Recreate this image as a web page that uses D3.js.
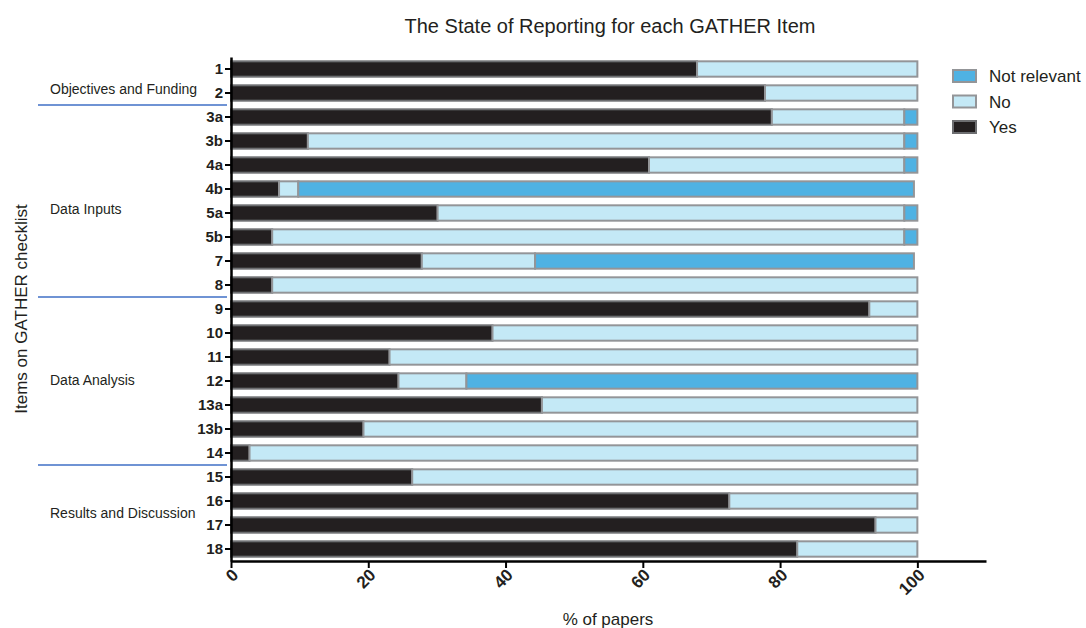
<!DOCTYPE html>
<html>
<head>
<meta charset="utf-8">
<script src="https://cdn.jsdelivr.net/npm/d3@7"></script>
<style>
  body { margin: 0; background: #fff; }
  svg { font-family: "Liberation Sans", Arial, sans-serif; }
</style>
</head>
<body>
<div class="canvas"></div>
<script>
// data (% of papers)
const items = ['1', '2', '3a', '3b', '4a', '4b', '5a', '5b', '7', '8', '9', '10', '11', '12', '13a', '13b', '14', '15', '16', '17', '18'];
const yes = [67.9, 77.8, 78.8, 11.2, 60.9, 7.0, 30.1, 6.0, 27.8, 6.0, 93.0, 38.1, 23.1, 24.4, 45.3, 19.3, 2.7, 26.4, 72.6, 93.9, 82.5];
const no = [32.1, 22.2, 19.3, 86.9, 37.2, 2.8, 68.0, 92.1, 16.5, 94.0, 7.0, 61.9, 76.9, 9.9, 54.7, 80.7, 97.3, 73.6, 27.4, 6.1, 17.5];
const notRelevant = [0, 0, 1.9, 1.9, 1.9, 89.7, 1.9, 1.9, 55.2, 0, 0, 0, 0, 65.7, 0, 0, 0, 0, 0, 0, 0];
const xTicks = [0, 20, 40, 60, 80, 100];
const groupNames = ['Objectives and Funding', 'Data Inputs', 'Data Analysis', 'Results and Discussion'];
const groupFirst = ['1', '3a', '9', '15'];
// item next to which each group name sits
const groupLabelAt = ['2', '5a', '12', '17'];
const legendItems = ['Not relevant', 'No', 'Yes'];

const dims = { width: 1086, height: 628 };
const margin = { left: 231, right: 986, top: 57, bottom: 561 };
const colors = { 'Yes': '#231f20', 'No': '#c4e9f6', 'Not relevant': '#4fb2e3' };
const strokes = { 'Yes': '#6d6e71', 'No': '#939598', 'Not relevant': '#939598' };
const labelShift = [1, 1, 4, -7];

const svg = d3.select('.canvas')
    .append('svg')
    .attr('width', dims.width)
    .attr('height', dims.height);

const x = d3.scaleLinear().domain([0, 110]).range([margin.left, margin.right]);
const y = d3.scaleBand().domain(items).range([margin.top, margin.bottom]).paddingInner(0.36).paddingOuter(0.18);

// stack the three series per item
const rows = items.map((item, i) => ({ item, Yes: yes[i], No: no[i], 'Not relevant': notRelevant[i] }));
const stack = d3.stack().keys(['Yes', 'No', 'Not relevant']);
const series = stack(rows);

const graph = svg.append('g');
series.forEach(s => {
    graph.selectAll(null)
        .data(s.filter(d => d[1] - d[0] > 0))
        .enter()
        .append('rect')
        .attr('x', d => x(d[0]))
        .attr('y', d => y(d.data.item))
        .attr('width', d => x(d[1]) - x(d[0]))
        .attr('height', y.bandwidth())
        .attr('fill', colors[s.key])
        .attr('stroke', strokes[s.key])
        .attr('stroke-width', 2);
});

// axes
const xAxis = svg.append('g')
    .attr('transform', `translate(0,${margin.bottom})`)
    .call(d3.axisBottom(x).tickValues(xTicks).tickSize(7).tickSizeOuter(0));
xAxis.select('.domain').attr('stroke', '#000').attr('stroke-width', 2.5);
xAxis.selectAll('.tick line').attr('stroke', '#000').attr('stroke-width', 2);
xAxis.selectAll('.tick text')
    .style('font-size', '17px')
    .attr('font-weight', 'bold')
    .attr('fill', '#231f20')
    .attr('text-anchor', 'end')
    .attr('dy', null)
    .attr('y', 0)
    .attr('transform', 'translate(8,15) rotate(-45)');

const yAxis = svg.append('g')
    .attr('transform', `translate(${margin.left},0)`)
    .call(d3.axisLeft(y).tickSize(6).tickSizeOuter(0));
yAxis.select('.domain').attr('stroke', '#000').attr('stroke-width', 2.5);
yAxis.selectAll('.tick line').attr('stroke', '#000').attr('stroke-width', 2);
yAxis.selectAll('.tick text')
    .attr('font-size', 15)
    .attr('font-weight', 'bold')
    .attr('fill', '#231f20')
    .attr('x', -8);

// group labels and separators
groupNames.forEach((name, i) => {
    svg.append('text')
        .attr('x', 50)
        .attr('y', y(groupLabelAt[i]) + y.bandwidth() / 2 + labelShift[i])
        .attr('font-size', 14)
        .attr('fill', '#231f20')
        .text(name);
    if (i > 0) {
        const ly = y(groupFirst[i]) - y.step() * y.paddingInner() / 2;
        svg.append('line')
            .attr('x1', 38).attr('x2', 227)
            .attr('y1', ly).attr('y2', ly)
            .attr('stroke', '#3f6fc6')
            .attr('stroke-width', 1.5);
    }
});

// titles
svg.append('text')
    .attr('x', 610).attr('y', 33)
    .attr('text-anchor', 'middle')
    .attr('font-size', 20)
    .attr('fill', '#231f20')
    .text('The State of Reporting for each GATHER Item');

svg.append('text')
    .attr('x', 608).attr('y', 625)
    .attr('text-anchor', 'middle')
    .attr('font-size', 17)
    .attr('fill', '#231f20')
    .text('% of papers');

svg.append('text')
    .attr('transform', 'translate(27,309) rotate(-90)')
    .attr('text-anchor', 'middle')
    .attr('font-size', 17)
    .attr('fill', '#231f20')
    .text('Items on GATHER checklist');

// legend
const legend = svg.append('g').attr('transform', 'translate(952,69)');
legendItems.forEach((k, i) => {
    legend.append('rect')
        .attr('x', 1).attr('y', i * 25.5 + 1)
        .attr('width', 23).attr('height', 12)
        .attr('fill', colors[k])
        .attr('stroke', strokes[k])
        .attr('stroke-width', 2);
    legend.append('text')
        .attr('x', 37).attr('y', i * 25.5 + 13)
        .attr('font-size', 17)
        .attr('fill', '#231f20')
        .text(k);
});
</script>
</body>
</html>
